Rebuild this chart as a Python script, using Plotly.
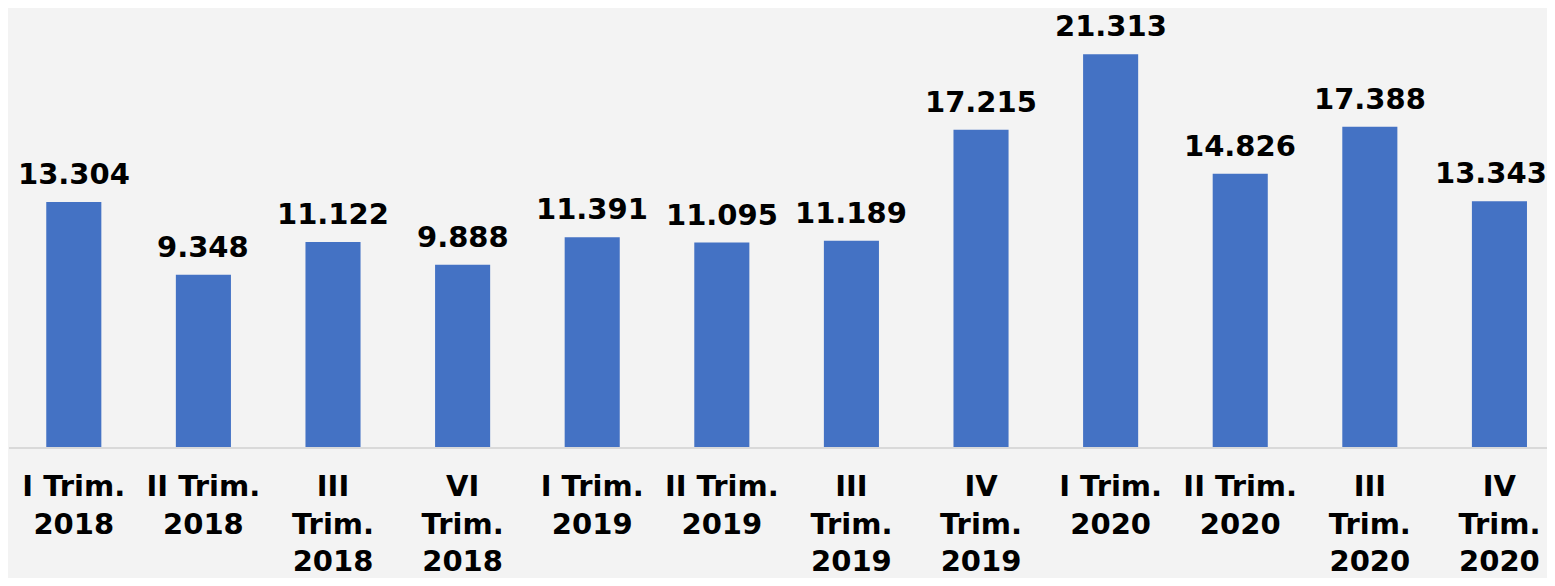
import plotly.graph_objects as go

# trimestri e valori
categorie = ['I Trim.<br>2018', 'II Trim.<br>2018', 'III<br>Trim.<br>2018', 'VI<br>Trim.<br>2018',
             'I Trim.<br>2019', 'II Trim.<br>2019', 'III<br>Trim.<br>2019', 'IV<br>Trim.<br>2019',
             'I Trim.<br>2020', 'II Trim.<br>2020', 'III<br>Trim.<br>2020', 'IV<br>Trim.<br>2020']
valori = [13.304, 9.348, 11.122, 9.888, 11.391, 11.095, 11.189, 17.215, 21.313, 14.826, 17.388, 13.343]
etichette = ['13.304', '9.348', '11.122', '9.888', '11.391', '11.095', '11.189',
             '17.215', '21.313', '14.826', '17.388', '13.343']

font_v = dict(family='DejaVu Sans', size=29, color='black', weight='bold')
font_t = dict(family='DejaVu Sans', size=29, color='black', weight='bold')

bar = go.Bar(
    x=list(range(len(valori))),
    y=valori,
    width=0.425,
    marker=dict(color='#4472C4', line=dict(width=0)),
    hoverinfo='none',
)

# etichette sopra le barre
ann = []
for i, v in enumerate(valori):
    ann.append(dict(x=i, y=v, xref='x', yref='y', text=etichette[i], showarrow=False,
                    yanchor='bottom', yshift=9, font=font_v,
                    xshift=-8 if i == len(valori) - 1 else 0))

# la pagina ha un margine di 8px: la figura sta dentro la finestra
fig = go.Figure(data=[bar])
fig.update_layout(
    width=1539, height=570,
    margin=dict(l=1, r=0, t=0, b=116),
    paper_bgcolor='#f3f3f3',
    plot_bgcolor='#f3f3f3',
    showlegend=False,
    annotations=ann,
    xaxis=dict(
        tickmode='array', tickvals=list(range(len(valori))), ticktext=categorie,
        range=[-0.5, 11.367], showgrid=False, zeroline=False,
        showline=True, linecolor='#d9d9d9', linewidth=2,
        ticks='outside', ticklen=12, tickcolor='rgba(0,0,0,0)',
        tickfont=font_t, tickangle=0,
    ),
    yaxis=dict(range=[0, 23.83], visible=False, showgrid=False, zeroline=False),
)

fig.write_html('out.html')
